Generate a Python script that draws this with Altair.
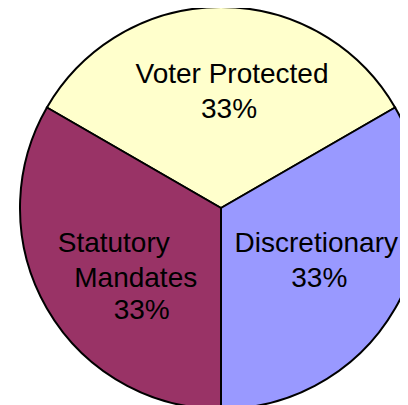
import math
import altair as alt
import pandas as pd

# ---- data ----
categories = ["Voter Protected", "Discretionary", "Statutory Mandates"]
values = [33.3, 33.3, 33.3]
slice_order = [0, 1, 2]
colors = ["#FFFFCC", "#9999FF", "#993366"]
label_lines = [
    ["Voter Protected", "33%"],
    ["Discretionary", "33%"],
    ["Statutory", "Mandates", "33%"],
]

# ---- label nudges (dx, dy) per line, relative to slice mid-angle anchor ----
nudges = [
    [(11, -15), (8, 20)],
    [(0, -11), (3, 24)],
    [(-12, -11), (10, 24), (16, 56)],
]

slices = pd.DataFrame({"category": categories, "value": values, "order": slice_order})
total = float(sum(values))

theta_scale = alt.Scale(domain=[0, total], range=[-math.pi / 3, 5 * math.pi / 3])
font = "Liberation Sans"

base = (
    alt.Chart(slices)
    .transform_stack(stack="value", groupby=[], as_=["v0", "v1"],
                     sort=[alt.SortField("order", order="ascending")])
    .transform_calculate(mid="(datum.v0 + datum.v1) / 2")
)

arcs = base.mark_arc(outerRadius=201, stroke="black", strokeWidth=2).encode(
    theta=alt.Theta("v0:Q", scale=theta_scale),
    theta2="v1:Q",
    color=alt.Color("category:N", scale=alt.Scale(domain=categories, range=colors), legend=None),
)

texts = []
for cat, lines, offs in zip(categories, label_lines, nudges):
    for line, (dx, dy) in zip(lines, offs):
        t = (
            base.transform_filter(alt.datum.category == cat)
            .mark_text(radius=110, dx=dx, dy=dy, align="center", baseline="alphabetic",
                       font=font, fontSize=28, color="black")
            .encode(theta=alt.Theta("mid:Q", scale=theta_scale, stack=False),
                    text=alt.value(line))
        )
        texts.append(t)

chart = (
    alt.layer(arcs, *texts)
    .properties(width=426, height=400,
                padding={"left": 0, "top": 0, "right": -34, "bottom": -3},
                autosize=alt.AutoSizeParams(type="none"))
    .configure_view(stroke=None)
)

chart.save("out.html", embed_options={"renderer": "svg", "actions": False})
